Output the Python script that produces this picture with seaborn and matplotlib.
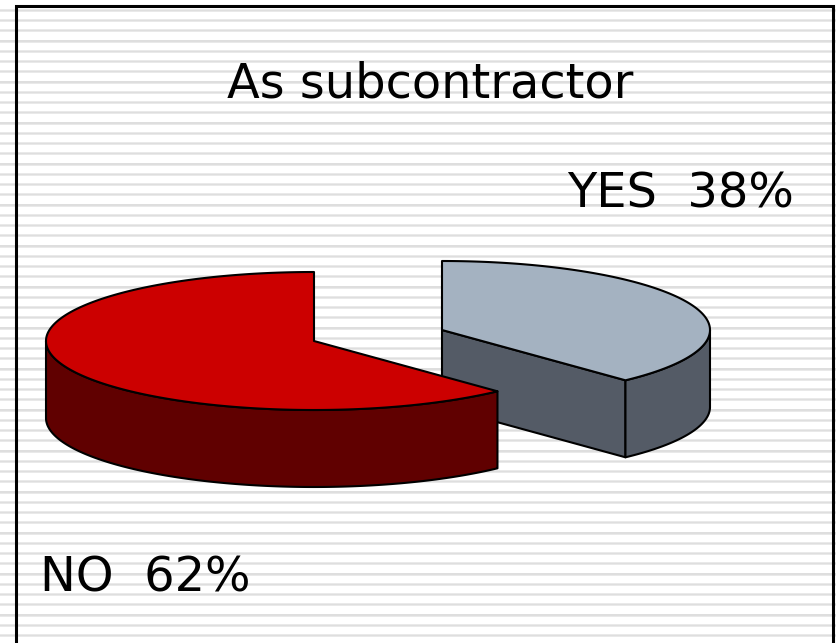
import matplotlib
matplotlib.use("Agg")
import matplotlib.pyplot as plt
import numpy as np
import seaborn as sns
from matplotlib.patches import Polygon

# --- data ---
labels = ["YES", "NO"]
values = [38, 62]
top_colors = ["#A4B2C1", "#CC0000"]
side_colors = ["#545B66", "#600000"]
title = "As subcontractor"

sns.set_theme(style="white")
plt.rcParams["font.family"] = ["DejaVu Sans"]

W, H = 836, 643
fig = plt.figure(figsize=(W / 100, H / 100), dpi=100)
ax = fig.add_axes([0, 0, 1, 1])
ax.set_xlim(0, W)
ax.set_ylim(H, 0)
ax.axis("off")

# striped background
for yc in np.arange(10.3, H + 5, 10.25):
    ax.axhspan(yc - 1.5, yc + 1.5, color="#e9e9e9", lw=0, zorder=0)
    ax.axhspan(yc - 0.6, yc + 0.6, color="#dedede", lw=0, zorder=0)
ax.plot([16, 16, 833, 833], [H + 5, 6, 6, H + 5], color="black", lw=2.2, zorder=1,
        solid_joinstyle="miter")

# --- 3D pie geometry ---
cx, cy = 314, 341
A, B = 268, 69
depth = 77
explode = [(128, -11), (0, 0)]


def pt(x0, y0, t, dz=0):
    r = np.radians(t)
    return x0 + A * np.cos(r), y0 - B * np.sin(r) + dz


def arc(x0, y0, ts, dz=0):
    r = np.radians(ts)
    return np.column_stack([x0 + A * np.cos(r), y0 - B * np.sin(r) + dz])


start = 90.0
for lab, v, ctop, cside, (ex, ey) in zip(labels, values, top_colors, side_colors, explode):
    t0 = start
    t1 = start - 360 * v / sum(values)
    start = t1
    x0, y0 = cx + ex, cy + ey
    kw = dict(edgecolor="black", lw=1.5, joinstyle="round", zorder=3)

    # radial faces
    for ta, nrm in [(t0, t0 + 90), (t1, t1 - 90)]:
        if np.sin(np.radians(nrm)) < -1e-6:
            ex_, ey_ = pt(x0, y0, ta)
            face = [(x0, y0), (ex_, ey_), (ex_, ey_ + depth), (x0, y0 + depth)]
            ax.add_patch(Polygon(face, closed=True, facecolor=cside, **kw))

    # outer curved side (front part)
    ts = np.linspace(t0, t1, 600)
    ts = ts[np.sin(np.radians(ts)) <= 1e-9]
    if len(ts) > 1:
        side = np.vstack([arc(x0, y0, ts), arc(x0, y0, ts[::-1], depth)])
        ax.add_patch(Polygon(side, closed=True, facecolor=cside, **kw))

    # top face
    top = np.vstack([[x0, y0], arc(x0, y0, np.linspace(t0, t1, 400))])
    ax.add_patch(Polygon(top, closed=True, facecolor=ctop, **kw))

# --- texts ---
fs = 34.5
ax.text(430, 98, title, fontsize=fs, ha="center", va="baseline", color="black", zorder=5)
ax.text(681, 207, f"{labels[0]}  {values[0]}%", fontsize=fs, ha="center", va="baseline",
        color="black", zorder=5)
ax.text(145, 591, f"{labels[1]}  {values[1]}%", fontsize=fs, ha="center", va="baseline",
        color="black", zorder=5)

fig.savefig("out.png", dpi=100)
